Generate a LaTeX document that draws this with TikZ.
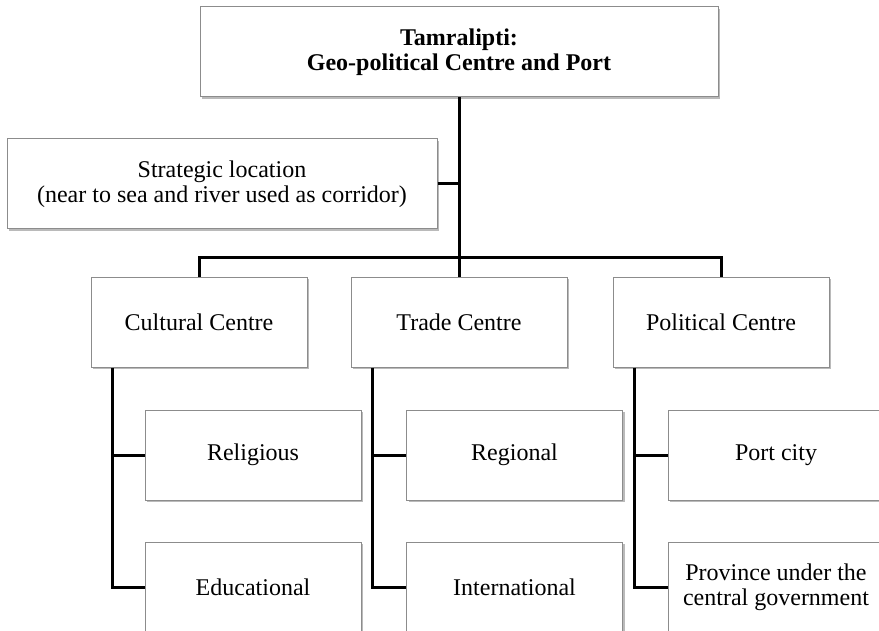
\documentclass[tikz,border=0pt]{standalone}
\usepackage{fontspec}
\setmainfont{Liberation Serif}
\usetikzlibrary{shadows}

\begin{document}
\begin{tikzpicture}[x=0.5pt,y=-0.5pt,line width=1.5pt]
    \tikzstyle{box}=[draw=black!45,line width=0.5pt,fill=white,align=center,inner sep=0pt,
        minimum width=108pt,minimum height=45pt,font=\fontsize{12}{12.5}\selectfont,
        drop shadow={shadow xshift=1pt,shadow yshift=-1.2pt,opacity=0.45,fill=black!60}]
    \clip (0,0) rectangle (879,631);
    \fill[white] (0,0) rectangle (879,631);

    \node[box,minimum width=259pt,font=\fontsize{12}{12.5}\selectfont\bfseries] (title) at (459,52)
        {Tamralipti:\\Geo-political Centre and Port};
    \node[box,minimum width=215pt] (strat) at (222,184)
        {Strategic location\\(near to sea and river used as corridor)};

    \foreach \name/\x/\txt in {cult/199/Cultural Centre, trade/459/Trade Centre, polit/721/Political Centre}
        \node[box] (\name) at (\x,322) {\txt};

    \foreach \name/\x/\y/\txt in {relig/253/455/Religious, regio/514.5/455/Regional, portc/776/455/Port city,
            educ/253/587/Educational, intl/514.5/587/International,
            prov/776/587/{Province under the\\central government}}
        \node[box] (\name) at (\x,\y) {\txt};

    % trunk and bus
    \coordinate (bus) at (459,257);
    \draw (title.south) -- (bus);
    \draw (strat.east) -- (strat.east -| title.south);
    \draw (cult.north) |- (bus) -| (polit.north);
    \draw (bus) -- (trade.north);

    % sub branches
    \foreach \top/\a/\b in {cult/relig/educ, trade/regio/intl, polit/portc/prov} {
        \coordinate (\top-line) at ([xshift=10.75pt]\top.south west);
        \draw (\top-line) |- (\b.west);
        \draw (\top-line |- \a.west) -- (\a.west);
    }
\end{tikzpicture}
\end{document}
